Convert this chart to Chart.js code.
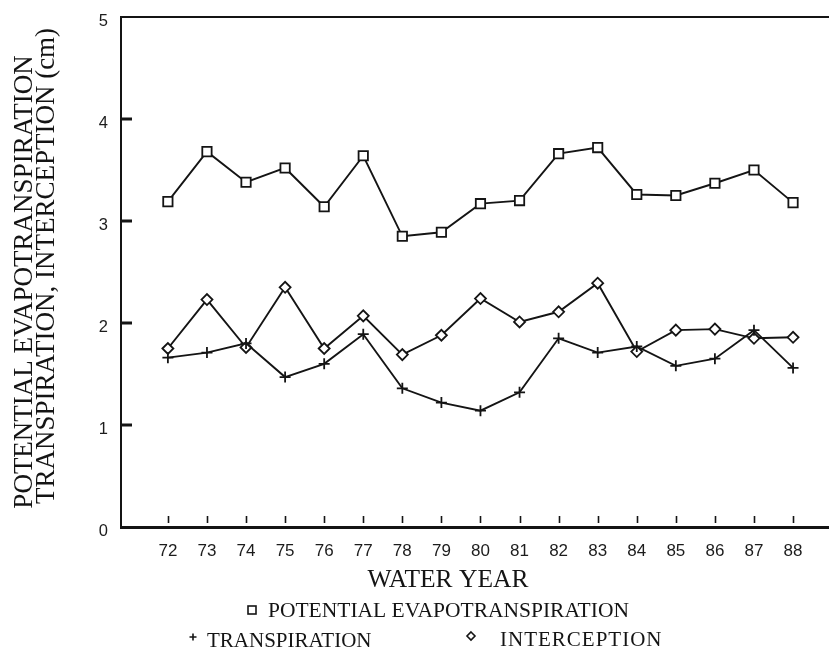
<!DOCTYPE html>
<html>
<head>
<meta charset="utf-8">
<script src="https://cdn.jsdelivr.net/npm/chart.js@4.4.1/dist/chart.umd.min.js"></script>
<style>
  html, body { margin: 0; padding: 0; background: #fff; }
  canvas { display: block; }
</style>
</head>
<body>
<canvas id="chart" width="829" height="658"></canvas>
<script>
// Water years (19xx) and annual totals in cm
const waterYears = [72, 73, 74, 75, 76, 77, 78, 79, 80, 81, 82, 83, 84, 85, 86, 87, 88];
const potentialET = [3.19, 3.68, 3.38, 3.52, 3.14, 3.64, 2.85, 2.89, 3.17, 3.20, 3.66, 3.72, 3.26, 3.25, 3.37, 3.50, 3.18];
const transpiration = [1.66, 1.71, 1.80, 1.47, 1.60, 1.89, 1.36, 1.22, 1.14, 1.32, 1.85, 1.71, 1.77, 1.58, 1.65, 1.93, 1.56];
const interception = [1.75, 2.23, 1.76, 2.35, 1.75, 2.07, 1.69, 1.88, 2.24, 2.01, 2.11, 2.39, 1.72, 1.93, 1.94, 1.85, 1.86];
const yTicks = [0, 1, 2, 3, 4, 5];

const yTitleLines = ['POTENTIAL EVAPOTRANSPIRATION', 'TRANSPIRATION, INTERCEPTION (cm)'];
const xTitle = 'WATER YEAR';
const seriesNames = ['POTENTIAL EVAPOTRANSPIRATION', 'TRANSPIRATION', 'INTERCEPTION'];

const INK = '#141414';
const SERIF = '"Liberation Serif", "Times New Roman", serif';
const SANS = '"Liberation Sans", Arial, sans-serif';

const toPoints = vals => waterYears.map((yr, i) => ({ x: yr, y: vals[i] }));

function drawSquare(ctx, cx, cy, s) {
  ctx.strokeRect(cx - s / 2, cy - s / 2, s, s);
}
function drawPlus(ctx, cx, cy, s) {
  ctx.beginPath();
  ctx.moveTo(cx - s / 2, cy); ctx.lineTo(cx + s / 2, cy);
  ctx.moveTo(cx, cy - s / 2); ctx.lineTo(cx, cy + s / 2);
  ctx.stroke();
}
function drawDiamond(ctx, cx, cy, s) {
  ctx.beginPath();
  ctx.moveTo(cx, cy - s / 2); ctx.lineTo(cx + s / 2, cy);
  ctx.lineTo(cx, cy + s / 2); ctx.lineTo(cx - s / 2, cy);
  ctx.closePath();
  ctx.stroke();
}

// Frame top edge, inward tick marks, axis titles and legend
const decorations = {
  id: 'decorations',
  afterDraw(chart) {
    const { ctx, chartArea: a, scales: { x, y } } = chart;
    ctx.save();
    ctx.strokeStyle = INK;
    ctx.fillStyle = INK;

    // top edge of the frame
    ctx.lineWidth = 2;
    ctx.beginPath();
    ctx.moveTo(a.left, a.top);
    ctx.lineTo(a.right, a.top);
    ctx.stroke();

    // short year ticks standing above the x axis
    ctx.lineWidth = 1.6;
    ctx.beginPath();
    waterYears.forEach(yr => {
      const px = Math.round(x.getPixelForValue(yr)) + 0.5;
      ctx.moveTo(px, a.bottom - 11);
      ctx.lineTo(px, a.bottom - 4);
    });
    ctx.stroke();

    // thick dashes on the y axis
    ctx.lineWidth = 3;
    ctx.beginPath();
    yTicks.slice(1, -1).forEach(v => {
      const py = y.getPixelForValue(v);
      ctx.moveTo(a.left, py);
      ctx.lineTo(a.left + 11, py);
    });
    ctx.stroke();

    // y axis title, two rotated lines
    ctx.textAlign = 'center';
    ctx.textBaseline = 'middle';
    ctx.font = '27px ' + SERIF;
    [[24.5, 282], [46.5, 266]].forEach(([tx, ty], i) => {
      ctx.save();
      ctx.translate(tx, ty);
      ctx.rotate(-Math.PI / 2);
      ctx.fillText(yTitleLines[i], 0, 0);
      ctx.restore();
    });

    // x axis title
    ctx.font = '25.5px ' + SERIF;
    ctx.fillText(xTitle, 448, 580);

    // legend
    ctx.textAlign = 'left';
    ctx.lineWidth = 1.6;
    ctx.font = '21.5px ' + SERIF;
    drawSquare(ctx, 252, 610, 8);
    ctx.fillText(seriesNames[0], 268, 611);
    ctx.font = '21px ' + SERIF;
    drawPlus(ctx, 193, 637, 7);
    ctx.fillText(seriesNames[1], 207, 641);
    drawDiamond(ctx, 471, 636, 8);
    ctx.letterSpacing = '1px';
    ctx.fillText(seriesNames[2], 500, 640);
    ctx.letterSpacing = '0px';

    ctx.restore();
  }
};

const lineStyle = {
  borderColor: INK,
  borderWidth: 1.9,
  pointBorderColor: INK,
  pointBackgroundColor: '#fff',
  pointBorderWidth: 1.8,
  tension: 0,
  fill: false
};

new Chart(document.getElementById('chart'), {
  type: 'line',
  data: {
    datasets: [
      Object.assign({ label: seriesNames[0], data: toPoints(potentialET), pointStyle: 'rect', pointRadius: 6.6 }, lineStyle),
      Object.assign({ label: seriesNames[1], data: toPoints(transpiration), pointStyle: 'cross', pointRadius: 5.5 }, lineStyle),
      Object.assign({ label: seriesNames[2], data: toPoints(interception), pointStyle: 'rectRot', pointRadius: 5.5, pointBorderWidth: 2.2 }, lineStyle)
    ]
  },
  options: {
    responsive: false,
    animation: false,
    events: [],
    layout: { autoPadding: false, padding: { top: 17, left: 0, right: 0, bottom: 0 } },
    plugins: { legend: { display: false }, tooltip: { enabled: false } },
    scales: {
      x: {
        type: 'linear',
        min: 70.8,
        max: 88.92,
        afterBuildTicks: s => { s.ticks = waterYears.map(v => ({ value: v })); },
        afterFit: s => { s.height = 131; s.paddingLeft = 0; s.paddingRight = 0; },
        grid: { display: false, drawTicks: true, tickLength: 14 },
        border: { display: true, width: 3, color: INK },
        ticks: {
          autoSkip: false,
          maxRotation: 0,
          padding: 0,
          color: '#1c1c1c',
          font: { family: SANS, size: 17 },
          callback: v => String(v)
        }
      },
      y: {
        min: 0,
        max: 5,
        afterBuildTicks: s => { s.ticks = yTicks.map(v => ({ value: v })); },
        afterFit: s => { s.width = 121; },
        grid: { display: false, drawTicks: true, tickLength: 13 },
        border: { display: true, width: 2, color: INK },
        ticks: {
          padding: 0,
          labelOffset: 4,
          color: '#1c1c1c',
          font: { family: SANS, size: 16.5 },
          callback: v => String(v)
        }
      }
    }
  },
  plugins: [decorations]
});
</script>
</body>
</html>
